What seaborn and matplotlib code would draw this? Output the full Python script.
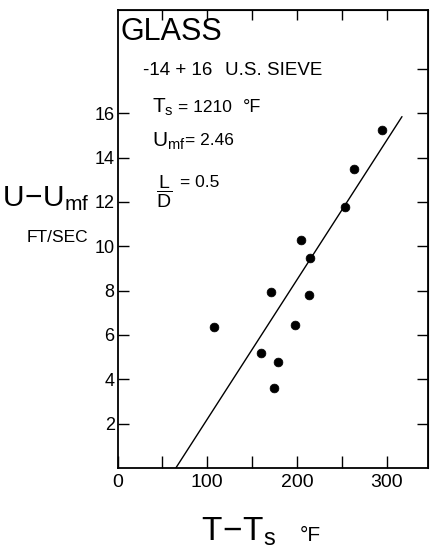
import numpy as np
import pandas as pd
import matplotlib.pyplot as plt
import seaborn as sns

# glass bed, -14 +16 U.S. sieve, Ts = 1210 F
# values
temp_diff = [107.6, 159.6, 171.1, 174.1, 178.6, 197.5, 204.6, 213.2, 214.9, 253.6, 263.7, 294.5]
vel_diff = [6.36, 5.17, 7.93, 3.59, 4.77, 6.45, 10.29, 7.79, 9.46, 11.77, 13.47, 15.26]

# the straight line drawn through the points
fit_x = [65, 317]
fit_y = [0.0, 15.85]

x_ticks = [0, 50, 100, 150, 200, 250, 300]
x_labels = ['0', '', '100', '', '200', '', '300']
top_ticks = [50, 100, 150, 200, 250, 300]
y_ticks = [2, 4, 6, 8, 10, 12, 14, 16]
right_ticks = [2, 4, 6, 8, 10, 12, 14, 16, 18]

df = pd.DataFrame({'dT': temp_diff, 'dU': vel_diff})

sns.set_style("ticks")
plt.rcParams['font.family'] = ['Liberation Sans', 'DejaVu Sans']
plt.rcParams['mathtext.fontset'] = 'custom'
plt.rcParams['mathtext.rm'] = 'Liberation Sans'
plt.rcParams['mathtext.it'] = 'Liberation Sans:italic'
plt.rcParams['mathtext.bf'] = 'Liberation Sans:bold'
plt.rcParams['text.color'] = 'black'
plt.rcParams['xtick.color'] = 'black'
plt.rcParams['ytick.color'] = 'black'
plt.rcParams['axes.edgecolor'] = 'black'

W, H = 430, 552
fig = plt.figure(figsize=(W / 100, H / 100), dpi=100)
ax = fig.add_axes([117.5 / W, 84 / H, 310.5 / W, 458 / H])

sns.scatterplot(data=df, x='dT', y='dU', color='black', edgecolor='black', s=40, ax=ax, zorder=3)
sns.lineplot(x=fit_x, y=fit_y, color='black', linewidth=1.0, ax=ax)

ax.set_xlim(0, 346)
ax.set_ylim(0, 20.66)
ax.set_xticks(x_ticks)
ax.set_xticklabels(x_labels)
ax.set_yticks(y_ticks)
ax.set_xlabel('')
ax.set_ylabel('')
ax.tick_params(axis='x', direction='in', length=9, width=1, labelsize=14, pad=4)
ax.tick_params(axis='y', direction='in', length=8, width=1, labelsize=13, pad=2)
for sp in ax.spines.values():
    sp.set_linewidth(1.3)
    sp.set_visible(True)

# extra ticks on top and right edges
top = ax.secondary_xaxis('top')
top.set_xticks(top_ticks)
top.tick_params(direction='in', length=7, width=1, labeltop=False)
right = ax.secondary_yaxis('right')
right.set_yticks(right_ticks)
right.tick_params(direction='in', length=8, width=1, labelright=False)

def px(x, y):
    # pixel position in the picture -> figure fraction
    return x / W, 1 - y / H

# labels
fig.text(*px(2, 206), r'$\mathrm{U\!-\!U_{mf}}$', fontsize=21.5, va='baseline')
fig.text(*px(27, 242), 'FT/SEC', fontsize=12.5, va='baseline')
fig.text(*px(201, 541), r'$\mathrm{T\!-\!T_s}$', fontsize=24, va='baseline')
fig.text(*px(300, 541), '°F', fontsize=15, va='baseline')

# notes inside the frame
fig.text(*px(120, 40), 'GLASS', fontsize=22, va='baseline')
fig.text(*px(143, 75), '-14 + 16', fontsize=13.5, va='baseline')
fig.text(*px(225, 75), 'U.S. SIEVE', fontsize=13.5, va='baseline')
fig.text(*px(152, 113), r'$\mathrm{T_s}$', fontsize=15, va='baseline')
fig.text(*px(178, 112), '= 1210', fontsize=12.5, va='baseline')
fig.text(*px(243, 112), '°F', fontsize=13, va='baseline')
fig.text(*px(152, 147), r'$\mathrm{U_{mf}}$', fontsize=15, va='baseline')
fig.text(*px(185, 145), '= 2.46', fontsize=12.5, va='baseline')
fig.text(*px(156, 192), r'$\dfrac{\mathrm{L}}{\mathrm{D}}$', fontsize=14, va='center')
fig.text(*px(180, 187), '= 0.5', fontsize=12.5, va='baseline')

fig.savefig('out.png', dpi=100)
